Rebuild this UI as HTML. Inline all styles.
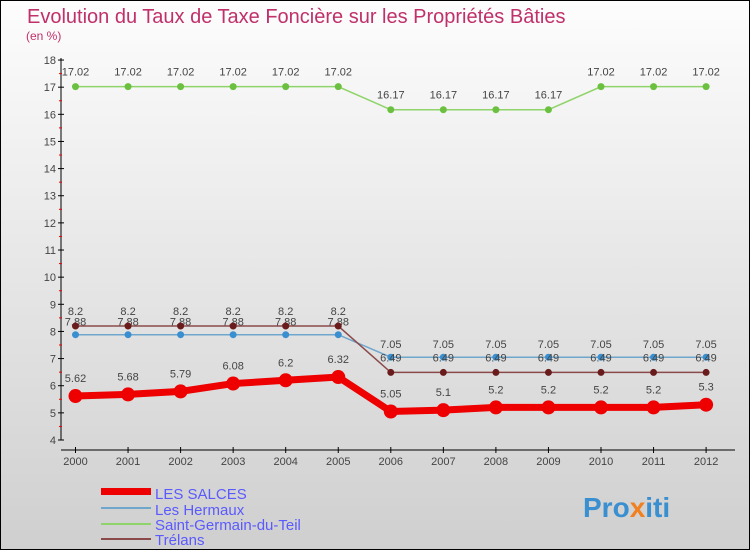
<!DOCTYPE html>
<html><head><meta charset="utf-8"><style>
body{margin:0;}
svg text{font-family:"Liberation Sans",sans-serif;}
</style></head><body>
<svg width="750" height="550" xmlns="http://www.w3.org/2000/svg" id="chart">
<defs><linearGradient id="bg" x1="0" y1="0" x2="0" y2="1"><stop offset="0" stop-color="#fdfdfd"/><stop offset="1" stop-color="#cfcfcf"/></linearGradient></defs>
<rect x="0.5" y="0.5" width="749" height="549" fill="url(#bg)" stroke="#000"/>
<text x="27" y="23" font-size="20" fill="#c0306a">Evolution du Taux de Taxe Foncière sur les Propriétés Bâties</text>
<text x="26" y="40" font-size="12" fill="#c0306a">(en %)</text>
<g id="axes"></g><g id="series"></g>
<g>
<rect x="101" y="488" width="50" height="7" fill="#e00"/>
<text x="155" y="499" font-size="15" fill="#5a5aff">LES SALCES</text>
<line x1="101" y1="508" x2="151" y2="508" stroke="#6fa6cc" stroke-width="2"/>
<text x="155" y="515" font-size="15" fill="#5a5aff">Les Hermaux</text>
<line x1="101" y1="524" x2="151" y2="524" stroke="#8fd46a" stroke-width="2"/>
<text x="155" y="530" font-size="15" fill="#5a5aff">Saint-Germain-du-Teil</text>
<line x1="101" y1="539" x2="151" y2="539" stroke="#8b4a4a" stroke-width="2"/>
<text x="155" y="545" font-size="15" fill="#5a5aff">Trélans</text>
</g>
<text x="583" y="517" font-size="28" font-weight="bold" fill="#3a8fd0">Pro<tspan fill="#f08020">x</tspan>iti</text>
</svg>
<script>
const years=[2000,2001,2002,2003,2004,2005,2006,2007,2008,2009,2010,2011,2012];
const yTicks=[4,5,6,7,8,9,10,11,12,13,14,15,16,17,18];
const salces=[5.62,5.68,5.79,6.08,6.2,6.32,5.05,5.1,5.2,5.2,5.2,5.2,5.3];
const hermaux=[7.88,7.88,7.88,7.88,7.88,7.88,7.05,7.05,7.05,7.05,7.05,7.05,7.05];
const stgermain=[17.02,17.02,17.02,17.02,17.02,17.02,16.17,16.17,16.17,16.17,17.02,17.02,17.02];
const trelans=[8.2,8.2,8.2,8.2,8.2,8.2,6.49,6.49,6.49,6.49,6.49,6.49,6.49];
const NS='http://www.w3.org/2000/svg';
const X=i=>75.5+i*52.55, Y=v=>440-(v-4)*27.14;
function mk(p,t,a,txt){const e=document.createElementNS(NS,t);for(const k in a)e.setAttribute(k,a[k]);if(txt!==undefined)e.textContent=txt;p.appendChild(e);return e;}
const ax=document.getElementById('axes'), sr=document.getElementById('series');
let l=mk(ax,'line',{x1:61,y1:58,x2:61,y2:440,stroke:'#000'});


l=mk(ax,'line',{x1:61,y1:450,x2:735,y2:450,stroke:'#000'});


yTicks.forEach(v=>{mk(ax,'line',{x1:58,y1:Y(v),x2:64,y2:Y(v),stroke:'#000'});
 if(v<18)mk(ax,'line',{x1:59,y1:Y(v+0.5),x2:62,y2:Y(v+0.5),stroke:'#e00'});
 const t=mk(ax,'text',{x:56,y:Y(v)+4,'font-size':11,fill:'#444','text-anchor':'end'},v);
 
 });
years.forEach((y,i)=>{mk(ax,'line',{x1:X(i),y1:447,x2:X(i),y2:453,stroke:'#000'});
 const t=mk(ax,'text',{x:X(i),y:465,'font-size':11,fill:'#444','text-anchor':'middle'},y);
 
 });
function series(d,name,col,dot,w,r,dy){const g=mk(sr,'g',{});
 
 
 mk(g,'polyline',{points:d.map((v,i)=>X(i)+','+Y(v)).join(' '),fill:'none',stroke:col,'stroke-width':w});
 d.forEach((v,i)=>{const c=mk(g,'circle',{cx:X(i),cy:Y(v),r:r,fill:dot});
  
  
  mk(g,'text',{x:X(i),y:Y(v)+dy,'font-size':11,fill:'#444','text-anchor':'middle'},String(v));});}
series(stgermain,'saint-germain','#8fd46a','#6cc040',1.5,3.5,-11);
series(hermaux,'les-hermaux','#6fa6cc','#3a8fd0',1.5,3.5,-9);
series(trelans,'trelans','#8b4a4a','#6a1c1c',1.5,3.5,-11);
series(salces,'les-salces','#e00','#e00',7,7,-14);
</script>
</body></html>
